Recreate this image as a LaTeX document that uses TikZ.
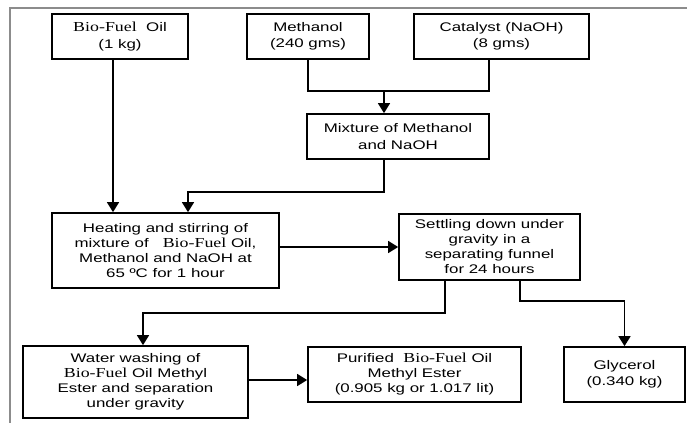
\documentclass[tikz,border=0pt]{standalone}
\usepackage{fontspec}
\setmainfont[FakeStretch=1.35]{Liberation Sans}
\newfontfamily\bfoserif[FakeStretch=1.3,Scale=1.1]{Liberation Serif}
\newcommand\BF{{\bfoserif Bio-Fuel}}
\usetikzlibrary{arrows.meta}
\tikzset{
  box/.style={draw, line width=1.7pt, inner sep=0pt, align=center,
    font=\fontsize{12.5}{15}\selectfont},
  boxwide/.style={box, font=\fontsize{12.5}{16.5}\selectfont},
  conn/.style={line width=1.5pt},
  arr/.style={conn, -{Triangle[width=12pt,length=10pt]}},
  frame/.style={line width=1.5pt, draw=black!45}
}
\begin{document}
\begin{tikzpicture}[x=1pt,y=1pt]
\useasboundingbox (0,0) rectangle (687,-423);
\draw[frame] (687,-8) -- (10,-8) -- (10,-423);
\node[boxwide, minimum width=136, minimum height=45] (bio) at (120,-36.5) {\BF{}\ \ Oil\\(1 kg)};
\node[boxwide, minimum width=122, minimum height=45] (meth) at (308,-36.5) {Methanol\\(240 gms)};
\node[boxwide, minimum width=175, minimum height=45] (cat) at (501.5,-36.5) {Catalyst (NaOH)\\(8 gms)};
\node[boxwide, minimum width=182, minimum height=45] (mix) at (398,-136.5) {Mixture of Methanol\\and NaOH};
\node[box, minimum width=227, minimum height=75] (heat) at (165.5,-250.5) {Heating and stirring of\\mixture of \ \ \BF{} Oil,\\Methanol and NaOH at\\65 ºC for 1 hour};
\node[box, minimum width=181, minimum height=66] (settle) at (489.5,-247) {Settling down under\\gravity in a\\separating funnel\\for 24 hours};
\node[box, minimum width=225, minimum height=72] (wash) at (135.5,-382) {Water washing of\\\BF{} Oil Methyl\\Ester and separation\\under gravity};
\node[box, minimum width=213, minimum height=55] (pur) at (414.5,-374.5) {Purified \ \BF{} Oil\\Methyl Ester\\(0.905 kg or 1.017 lit)};
\node[boxwide, minimum width=121, minimum height=55] (gly) at (624.5,-374.5) {Glycerol\\(0.340 kg)};
\coordinate (j1) at (384,-91);
\coordinate (j2) at (188,-192);
\coordinate (j3) at (445,-313);
\coordinate (j4) at (143,-313);
\coordinate (j5) at (520,-301);
\coordinate (j6) at (0,-380);
\draw[arr] ([xshift=-7pt]bio.south) -- ([xshift=-7pt]bio.south |- heat.north);
\draw[conn] (meth.south) |- (j1) -| ([xshift=-12.5pt]cat.south);
\draw[arr] (j1) -- (j1 |- mix.north);
\draw[arr] (j1 |- mix.south) |- (j2) -- (j2 |- heat.north);
\draw[arr] (heat.east |- settle.west) -- (settle.west);
\draw[arr] (j3 |- settle.south) -- (j3) -- (j4) -- (j4 |- wash.north);
\draw[arr] (j5 |- settle.south) |- (gly.north |- j5) -- (gly.north);
\draw[arr] (wash.east |- j6) -- (pur.west |- j6);
\end{tikzpicture}
\end{document}
